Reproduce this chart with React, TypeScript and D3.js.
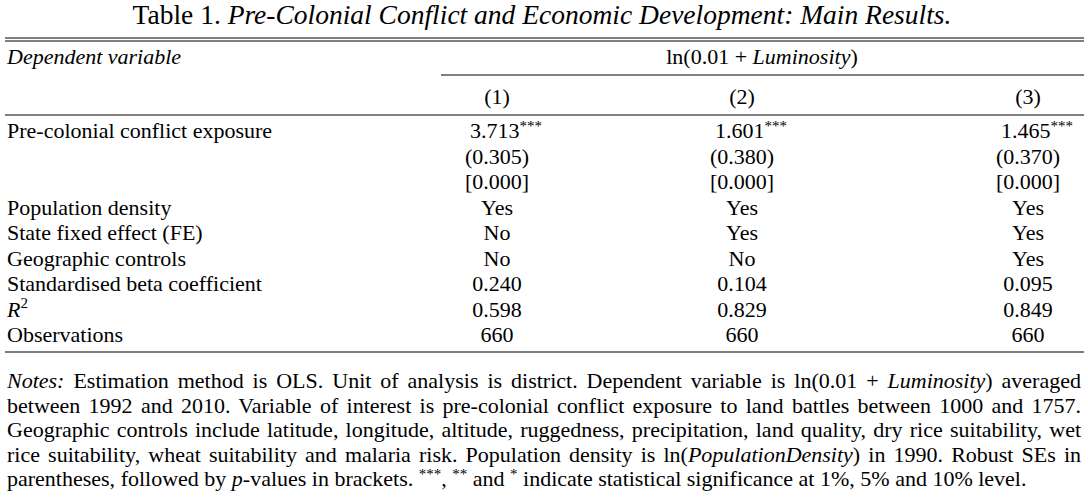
import * as d3 from 'd3';
import React, { useEffect, useRef } from 'react';

const W = 1088;
const H = 498;

const title = 'Table 1.';
const titleItalic = 'Pre-Colonial Conflict and Economic Development: Main Results.';
const columns = ['(1)', '(2)', '(3)'];
const coef = ['3.713', '1.601', '1.465'];
const se = ['(0.305)', '(0.380)', '(0.370)'];
const pval = ['[0.000]', '[0.000]', '[0.000]'];
const rowLabels = [
    'Population density',
    'State fixed effect (FE)',
    'Geographic controls',
    'Standardised beta coefficient',
    'R2',
    'Observations',
];
const rowValues = [
    ['Yes', 'Yes', 'Yes'],
    ['No', 'Yes', 'Yes'],
    ['No', 'No', 'Yes'],
    ['0.240', '0.104', '0.095'],
    ['0.598', '0.829', '0.849'],
    ['660', '660', '660'],
];
const notes = [
    'Notes: Estimation method is OLS. Unit of analysis is district. Dependent variable is ln(0.01 + Luminosity) averaged',
    'between 1992 and 2010. Variable of interest is pre-colonial conflict exposure to land battles between 1000 and 1757.',
    'Geographic controls include latitude, longitude, altitude, ruggedness, precipitation, land quality, dry rice suitability, wet',
    'rice suitability, wheat suitability and malaria risk. Population density is ln(PopulationDensity) in 1990. Robust SEs in',
    'parentheses, followed by p-values in brackets. ***, ** and * indicate statistical significance at 1%, 5% and 10% level.',
];
const italicWords = ['Notes:'];

const FONT = '"Liberation Serif", "Times New Roman", serif';

const App = () => {
    const ref = useRef<SVGSVGElement | null>(null);

    useEffect(() => {
        const svg = d3.select(ref.current);
        svg.selectAll('*').remove();
        svg.attr('font-family', FONT).attr('fill', '#000');

        const colX = d3.scaleOrdinal<string, number>().domain(columns).range([497, 742, 1028]);
        const left = 7;
        const right = 1081;
        const fs = 22;
        const sup = 15;

        // title
        const t = svg.append('text').attr('x', W / 2 - 2).attr('y', 24).attr('text-anchor', 'middle').attr('font-size', 27.5);
        t.append('tspan').text(title + ' ');
        t.append('tspan').attr('font-style', 'italic').text(titleItalic);

        const hline = (y: number, x1: number, x2: number, w = 1) =>
            svg.append('line').attr('x1', x1).attr('x2', x2).attr('y1', y).attr('y2', y)
                .attr('stroke', '#000').attr('stroke-width', w);

        hline(38, left - 2, right + 3, 1.2);
        hline(41, left - 2, right + 3, 1.2);
        svg.append('text').attr('x', left).attr('y', 64).attr('font-size', fs).attr('font-style', 'italic').text('Dependent variable');
        const dv = svg.append('text').attr('x', 762).attr('y', 64).attr('text-anchor', 'middle').attr('font-size', fs);
        dv.append('tspan').text('ln(0.01 + ');
        dv.append('tspan').attr('font-style', 'italic').text('Luminosity');
        dv.append('tspan').text(')');
        hline(75, 441, right + 3);

        columns.forEach((c) => {
            svg.append('text').attr('x', colX(c)).attr('y', 104).attr('text-anchor', 'middle').attr('font-size', fs).text(c);
        });
        hline(115, left - 2, right + 3);

        const rowY = d3.scaleLinear().domain([0, 1]).range([138, 163.5]);

        svg.append('text').attr('x', left).attr('y', rowY(0)).attr('font-size', fs).text('Pre-colonial conflict exposure');
        columns.forEach((c, i) => {
            const tx = svg.append('text').attr('x', colX(c) + 9).attr('y', rowY(0)).attr('text-anchor', 'middle').attr('font-size', fs);
            tx.append('tspan').text(coef[i]);
            tx.append('tspan').attr('font-size', sup).attr('dy', -7).text('***');
            svg.append('text').attr('x', colX(c)).attr('y', rowY(1)).attr('text-anchor', 'middle').attr('font-size', fs).text(se[i]);
            svg.append('text').attr('x', colX(c)).attr('y', rowY(2)).attr('text-anchor', 'middle').attr('font-size', fs).text(pval[i]);
        });

        rowLabels.forEach((lab, r) => {
            const y = rowY(3 + r);
            if (lab === 'R2') {
                const tx = svg.append('text').attr('x', left).attr('y', y).attr('font-size', fs);
                tx.append('tspan').attr('font-style', 'italic').text('R');
                tx.append('tspan').attr('font-size', sup).attr('dy', -9).text('2');
            } else {
                svg.append('text').attr('x', left).attr('y', y).attr('font-size', fs).text(lab);
            }
            rowValues[r].forEach((v, i) => {
                svg.append('text').attr('x', colX(columns[i])).attr('y', y).attr('text-anchor', 'middle').attr('font-size', fs).text(v);
            });
        });
        hline(352, left - 2, right + 3, 1.2);

        const noteY = d3.scaleLinear().domain([0, 1]).range([388, 412.5]);
        notes.forEach((line, i) => {
            const tx = svg.append('text').attr('x', left).attr('y', noteY(i)).attr('font-size', fs)
                .attr('xml:space', 'preserve');
            const words = line.split(' ');
            words.forEach((w, k) => {
                const sep = k < words.length - 1 ? ' ' : '';
                if (w === 'Luminosity)') {
                    tx.append('tspan').attr('font-style', 'italic').text('Luminosity');
                    tx.append('tspan').text(')' + sep);
                } else if (w === 'ln(PopulationDensity)') {
                    tx.append('tspan').text('ln(');
                    tx.append('tspan').attr('font-style', 'italic').text('PopulationDensity');
                    tx.append('tspan').text(')' + sep);
                } else if (w === 'p-values') {
                    tx.append('tspan').attr('font-style', 'italic').text('p');
                    tx.append('tspan').text('-values' + sep);
                } else if (w === '***,') {
                    tx.append('tspan').attr('font-size', sup).attr('baseline-shift', '7').text('***');
                    tx.append('tspan').text(',' + sep);
                } else if (w === '**' || w === '*') {
                    tx.append('tspan').attr('font-size', sup).attr('baseline-shift', '7').text(w);
                    tx.append('tspan').text(sep);
                } else {
                    tx.append('tspan').attr('font-style', italicWords.includes(w) ? 'italic' : null).text(w + sep);
                }
            });
            if (i < notes.length - 1) {
                const node = tx.node() as SVGTextElement;
                const natural = node.getComputedTextLength();
                const gaps = words.length - 1;
                const extra = (right - left - natural) / gaps;
                tx.attr('word-spacing', extra);
            }
        });
    }, []);

    return <svg ref={ref} width={W} height={H} style={{ position: 'absolute', left: 0, top: 0, background: '#fff' }} />;
};

export default App;
